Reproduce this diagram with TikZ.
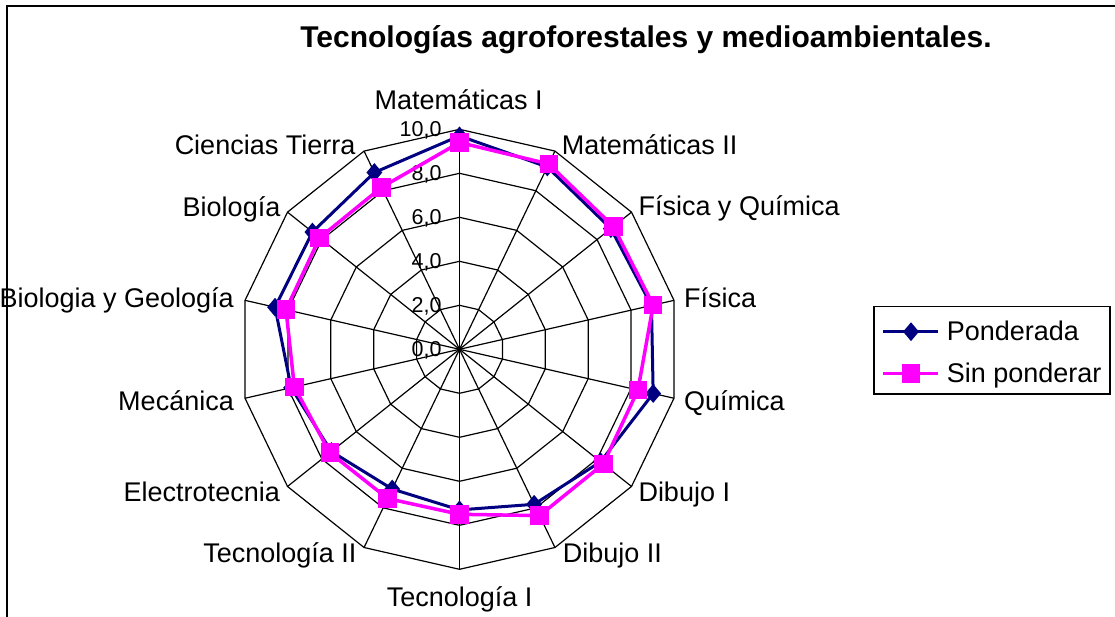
\documentclass[tikz,border=0pt]{standalone}
\usepackage{fontspec}
\setmainfont{Liberation Sans}
\usetikzlibrary{shapes.geometric}
\definecolor{pondcol}{RGB}{0,0,128}
\definecolor{sincol}{RGB}{255,0,255}
\begin{document}
\begin{tikzpicture}[x=1pt,y=-1pt,
  gridline/.style={black,line width=1.2pt},
  pondline/.style={pondcol,line width=3pt,line join=miter},
  sinline/.style={sincol,line width=3.5pt,line join=miter},
  dmark/.style={diamond,fill=pondcol,inner sep=0pt,minimum width=16pt,minimum height=19pt},
  smark/.style={rectangle,fill=sincol,inner sep=0pt,minimum size=18.5pt},
  lab/.style={font=\fontsize{27}{31}\selectfont,inner sep=0pt},
  ticklab/.style={font=\fontsize{21.5}{25}\selectfont,inner sep=0pt,anchor=base east},
  titlestyle/.style={font=\bfseries\fontsize{30}{35}\selectfont,inner sep=0pt,anchor=base}]
\useasboundingbox (0,0) rectangle (1115,617);
\fill[white] (0,0) rectangle (1115,617);
% frame
\draw[line width=2.2pt] (7,617) -- (7,6) -- (1115,6);
\def\cx{459.5}
\def\cy{349.3}
\coordinate (C) at (\cx,\cy);
% outer vertices
\foreach \k in {0,...,13}{
  \coordinate (v\k) at ({\cx+220*sin(\k*360/14)},{\cy-220*cos(\k*360/14)});
}
% rings
\foreach \r in {44,88,132,176,220}{
  \draw[gridline] ({\cx},{\cy-\r})
  \foreach \k in {1,...,13}{ -- ({\cx+\r*sin(\k*360/14)},{\cy-\r*cos(\k*360/14)}) } -- cycle;
}
% spokes
\foreach \k in {0,...,13}{ \draw[gridline] (C) -- (v\k); }
% tick labels
\node[ticklab] (t0) at (441.7,356.7) {0,0};
\node[ticklab] (t2) at (441.7,312.7) {2,0};
\node[ticklab] (t4) at (441.7,268.7) {4,0};
\node[ticklab] (t6) at (441.7,224.7) {6,0};
\node[ticklab] (t8) at (441.7,180.7) {8,0};
\node[ticklab] (t10) at (441.7,136.7) {10,0};
% data points
\foreach \k/\p/\s in {0/9.7/9.4, 1/9.2/9.35, 2/8.8/8.95, 3/8.95/9.03, 4/9.03/8.32,
  5/8.2/8.36, 6/7.82/8.39, 7/7.3/7.5, 8/7.05/7.53, 9/7.45/7.54, 10/7.85/7.7,
  11/8.6/8.09, 12/8.55/8.13, 13/8.92/8.17}{
  \coordinate (p\k) at ({\cx+22*\p*sin(\k*360/14)},{\cy-22*\p*cos(\k*360/14)});
  \coordinate (s\k) at ({\cx+22*\s*sin(\k*360/14)},{\cy-22*\s*cos(\k*360/14)});
}
% Ponderada
\draw[pondline] (p0) -- (p1) -- (p2) -- (p3) -- (p4) -- (p5) -- (p6) -- (p7)
  -- (p8) -- (p9) -- (p10) -- (p11) -- (p12) -- (p13) -- cycle;
\foreach \k in {0,...,13}{ \node[dmark] (pm\k) at (p\k) {}; }
% Sin ponderar
\draw[sinline] (s0) -- (s1) -- (s2) -- (s3) -- (s4) -- (s5) -- (s6) -- (s7)
  -- (s8) -- (s9) -- (s10) -- (s11) -- (s12) -- (s13) -- cycle;
\foreach \k in {0,...,13}{ \node[smark] (sm\k) at (s\k) {}; }
% axis labels
\node[lab,anchor=base] (a0) at (458.7,109.3) {Matemáticas I};
\node[lab,anchor=base west] (a1) at (561.7,155) {Matemáticas II};
\node[lab,anchor=base west] (a2) at (638.3,216) {Física y Química};
\node[lab,anchor=base west] (a3) at (684,307.7) {Física};
\node[lab,anchor=base west] (a4) at (684,410) {Química};
\node[lab,anchor=base west] (a5) at (638.3,501) {Dibujo I};
\node[lab,anchor=base west] (a6) at (562.7,562.7) {Dibujo II};
\node[lab,anchor=base] (a7) at (459.7,606.7) {Tecnología I};
\node[lab,anchor=base east] (a8) at (356.7,562.7) {Tecnología II};
\node[lab,anchor=base east] (a9) at (280,501.7) {Electrotecnia};
\node[lab,anchor=base east] (a10) at (234,410) {Mecánica};
\node[lab,anchor=base east] (a11) at (234,307.7) {Biologia y Geología};
\node[lab,anchor=base east] (a12) at (280.5,216.7) {Biología};
\node[lab,anchor=base east] (a13) at (355.5,155) {Ciencias Tierra};
% title
\node[titlestyle] (title) at (646,48) {Tecnologías agroforestales y medioambientales.};
% legend
\node[draw,line width=1.3pt,minimum width=236pt,minimum height=87.3pt,inner sep=0pt,anchor=north west] (legend) at (873.3,306) {};
\coordinate (l1a) at (883,331.7);
\coordinate (l1b) at (938,331.7);
\coordinate (l2a) at (883,373.3);
\coordinate (l2b) at (938,373.3);
\draw[pondline] (l1a) -- (l1b);
\node[dmark] (lm1) at (911,331.7) {};
\draw[sinline] (l2a) -- (l2b);
\node[smark] (lm2) at (911,373.3) {};
\node[lab,anchor=base west] (lt1) at (946.7,340.7) {Ponderada};
\node[lab,anchor=base west] (lt2) at (946.7,382.7) {Sin ponderar};
\end{tikzpicture}
\end{document}
